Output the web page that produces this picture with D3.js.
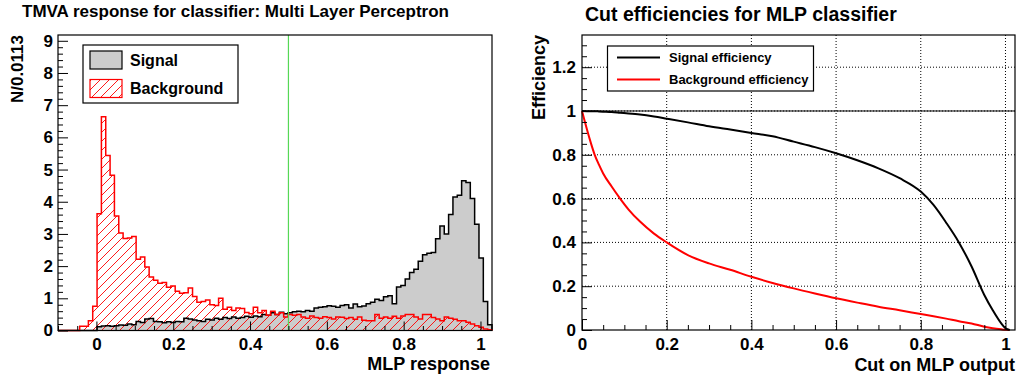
<!DOCTYPE html>
<html><head><meta charset="utf-8">
<script src="https://cdn.jsdelivr.net/npm/d3@7"></script>
<style>
body{margin:0;background:#fff}
svg{display:block}
text{font-family:"Liberation Sans",Arial,Helvetica,sans-serif;font-weight:bold;fill:#000}
</style>
</head><body>
<svg id="c" width="1018" height="377"></svg>
<script>
// ---------- data ----------
const histLow = -0.1, histBinWidth = 0.0113;
const signalCounts = [
 0,0,0,0,0,0,0,0,0,0.12,
 0.14,0.15,0.13,0.15,0.17,0.16,0.2,0.18,0.28,0.25,
 0.36,0.37,0.28,0.27,0.24,0.27,0.25,0.28,0.27,0.38,
 0.36,0.33,0.3,0.28,0.35,0.33,0.38,0.35,0.4,0.37,
 0.42,0.38,0.4,0.44,0.41,0.45,0.43,0.5,0.47,0.55,
 0.5,0.57,0.52,0.55,0.58,0.6,0.58,0.62,0.6,0.7,
 0.72,0.74,0.77,0.75,0.72,0.78,0.8,0.7,0.82,0.74,
 0.76,0.83,0.88,0.97,0.93,1.05,1.08,0.83,1.35,1.4,
 1.6,1.8,1.9,2.15,2.35,2.4,2.42,2.85,3.25,3.0,
 3.6,4.15,4.2,4.65,4.6,4.1,3.3,2.25,0.9,0.18
];
const backgroundCounts = [
 0,0,0,0,0,0.13,0.13,0.3,0.75,3.63,
 6.64,5.44,4.82,3.56,3.03,2.86,2.87,2.92,2.21,2.28,
 1.97,1.66,1.56,1.47,1.49,1.34,1.38,1.22,1.16,1.17,
 1.32,1.06,0.88,0.9,0.95,0.8,0.78,1.0,0.66,0.72,
 0.62,0.7,0.68,0.56,0.52,0.72,0.55,0.62,0.47,0.6,
 0.5,0.55,0.42,0.5,0.47,0.5,0.42,0.38,0.45,0.4,
 0.38,0.43,0.4,0.36,0.42,0.41,0.37,0.4,0.35,0.42,
 0.32,0.3,0.3,0.5,0.38,0.42,0.38,0.44,0.38,0.45,
 0.5,0.5,0.42,0.36,0.5,0.5,0.4,0.36,0.3,0.42,
 0.38,0.35,0.3,0.3,0.26,0.2,0.15,0.1,0.05,0.02
];
const histXTicks = [0, 0.2, 0.4, 0.6, 0.8, 1];
const histYTicks = [0, 1, 2, 3, 4, 5, 6, 7, 8, 9];
const cutPosition = 0.5;

const cutValues     = [0,0.02,0.03,0.04,0.05,0.07,0.09,0.11,0.137,0.17,0.2,0.25,0.3,0.35,0.4,0.45,0.5,0.55,0.6,0.65,0.7,0.75,0.8,0.83,0.86,0.89,0.92,0.95,0.97,0.99,1.0,1.01];
const signalEff     = [1.0,0.999,0.999,0.998,0.997,0.995,0.992,0.989,0.984,0.975,0.965,0.948,0.93,0.915,0.9,0.885,0.86,0.835,0.807,0.775,0.738,0.693,0.632,0.571,0.49,0.40,0.29,0.16,0.09,0.03,0.008,0];
const backgroundEff = [1.0,0.86,0.80,0.755,0.715,0.655,0.60,0.55,0.495,0.44,0.40,0.342,0.304,0.275,0.243,0.215,0.19,0.167,0.145,0.125,0.106,0.09,0.073,0.063,0.052,0.04,0.03,0.015,0.008,0.003,0.001,0];
const effXTicks = [0, 0.2, 0.4, 0.6, 0.8, 1];
const effYTicks = [0, 0.2, 0.4, 0.6, 0.8, 1, 1.2];

// ---------- drawing ----------
const svg = d3.select("#c");
const fmt = d3.format("~g");
const defs = svg.append("defs");
defs.append("pattern").attr("id","hatch").attr("patternUnits","userSpaceOnUse")
  .attr("width",9).attr("height",9)
  .append("path").attr("d","M-1,10 L10,-1 M-3,3 L3,-3 M6,12 L12,6")
  .attr("stroke","#ff0000").attr("stroke-width",0.9).attr("fill","none");

function minorValues(lo, hi, step, majorStep){
  const out = [];
  const n0 = Math.ceil(lo/step - 1e-9), n1 = Math.floor(hi/step + 1e-9);
  for (let i=n0;i<=n1;i++){
    const v = i*step;
    const r = v/majorStep;
    if (Math.abs(r - Math.round(r)) > 1e-6) out.push(v);
  }
  return out;
}

// ===== Left panel =====
const L = {x0:58, x1:492, y0:35, y1:330.5};
const nBins = signalCounts.length;
const histHigh = histLow + nBins*histBinWidth;
const xL = d3.scaleLinear().domain([histLow, histHigh]).range([L.x0, L.x1]);
const yL = d3.scaleLinear().domain([0, 9.18]).range([L.y1, L.y0]);

function stepPoints(counts){
  const pts = [[histLow, 0]];
  counts.forEach((v,i)=>{
    const a = histLow + i*histBinWidth, b = a + histBinWidth;
    pts.push([a, v]); pts.push([b, v]);
  });
  pts.push([histHigh, 0]);
  return pts;
}
const stepLine = d3.line().x(d=>xL(d[0])).y(d=>yL(d[1]));
const sigPts = stepPoints(signalCounts), bkgPts = stepPoints(backgroundCounts);

svg.append("text").attr("x",22).attr("y",17).attr("font-size",17)
  .text("TMVA response for classifier: Multi Layer Perceptron");

const gL = svg.append("g");
gL.append("path").attr("d", stepLine(sigPts)+"Z").attr("fill","#cccccc").attr("stroke","none");
gL.append("path").attr("d", stepLine(bkgPts)+"Z").attr("fill","url(#hatch)").attr("stroke","none");
gL.append("path").attr("d", stepLine(sigPts)).attr("fill","none").attr("stroke","#000").attr("stroke-width",1.5);
gL.append("path").attr("d", stepLine(bkgPts)).attr("fill","none").attr("stroke","#ff0000").attr("stroke-width",1.5);

gL.append("line").attr("x1",xL(cutPosition)).attr("x2",xL(cutPosition))
  .attr("y1",L.y0).attr("y2",L.y1).attr("stroke","#55d855").attr("stroke-width",1.2);

// axes
const axXL = d3.axisBottom(xL).tickValues(histXTicks).tickFormat(fmt).tickSizeInner(-9).tickSizeOuter(0).tickPadding(7.5);
const gxL = gL.append("g").attr("transform",`translate(0,${L.y1})`).call(axXL);
const axXLm = d3.axisBottom(xL).tickValues(minorValues(histLow, histHigh, 0.05, 0.2)).tickFormat("").tickSizeInner(-4.5).tickSizeOuter(0);
const gxLm = gL.append("g").attr("transform",`translate(0,${L.y1})`).call(axXLm);
const axYL = d3.axisLeft(yL).tickValues(histYTicks).tickFormat(fmt).tickSizeInner(-10).tickSizeOuter(0).tickPadding(5);
const gyL = gL.append("g").attr("transform",`translate(${L.x0},0)`).call(axYL);
const axYLm = d3.axisLeft(yL).tickValues(minorValues(0, 9.18, 0.2, 1)).tickFormat("").tickSizeInner(-5).tickSizeOuter(0);
const gyLm = gL.append("g").attr("transform",`translate(${L.x0},0)`).call(axYLm);
[gxL,gxLm,gyL,gyLm].forEach(g=>{
  g.select(".domain").remove();
  g.selectAll("line").attr("stroke","#000").attr("stroke-width",1);
  g.selectAll("text").attr("font-size",17).attr("font-family",null).style("fill","#000");
});

gL.append("rect").attr("x",L.x0).attr("y",L.y0).attr("width",L.x1-L.x0).attr("height",L.y1-L.y0)
  .attr("fill","none").attr("stroke","#000").attr("stroke-width",1.2);

// legend
const lg = gL.append("g");
lg.append("rect").attr("x",83).attr("y",45).attr("width",155).attr("height",58).attr("fill","#fff").attr("stroke","#000").attr("stroke-width",1.2);
lg.append("rect").attr("x",90).attr("y",51).attr("width",32).attr("height",18).attr("fill","#cccccc").attr("stroke","#000").attr("stroke-width",1.2);
lg.append("rect").attr("x",90).attr("y",79.5).attr("width",32).attr("height",18).attr("fill","url(#hatch)").attr("stroke","#ff0000").attr("stroke-width",1.2);
lg.append("text").attr("x",130).attr("y",66).attr("font-size",16).text("Signal");
lg.append("text").attr("x",130).attr("y",94).attr("font-size",16).text("Background");

svg.append("text").attr("transform","translate(23,35) rotate(-90)").attr("text-anchor","end")
  .attr("font-size",17).text("N/0.0113");
svg.append("text").attr("x",490).attr("y",369.5).attr("text-anchor","end").attr("font-size",18).text("MLP response");

// ===== Right panel =====
const R = {x0:582, x1:1015, y0:35, y1:330};
const xR = d3.scaleLinear().domain([0, 1.0225]).range([R.x0, R.x1]);
const yR = d3.scaleLinear().domain([0, 1.347]).range([R.y1, R.y0]);

svg.append("text").attr("x",585).attr("y",21).attr("font-size",19.5).text("Cut efficiencies for MLP classifier");

const gR = svg.append("g");
// grid
effXTicks.filter(v=>v>0).forEach(v=>{
  gR.append("line").attr("x1",xR(v)).attr("x2",xR(v)).attr("y1",R.y0).attr("y2",R.y1)
    .attr("stroke","#000").attr("stroke-width",1).attr("stroke-dasharray","1,2");
});
effYTicks.filter(v=>v>0).forEach(v=>{
  gR.append("line").attr("x1",R.x0).attr("x2",R.x1).attr("y1",yR(v)).attr("y2",yR(v))
    .attr("stroke","#000").attr("stroke-width",1).attr("stroke-dasharray","1,2");
});
gR.append("line").attr("x1",R.x0).attr("x2",R.x1).attr("y1",yR(1)).attr("y2",yR(1)).attr("stroke","#000").attr("stroke-width",1);

const effLine = d3.line().x((d,i)=>xR(cutValues[i])).y(d=>yR(d)).curve(d3.curveMonotoneX);
gR.append("path").attr("d",effLine(backgroundEff)).attr("fill","none").attr("stroke","#ff0000").attr("stroke-width",2);
gR.append("path").attr("d",effLine(signalEff)).attr("fill","none").attr("stroke","#000").attr("stroke-width",2);

const axXR = d3.axisBottom(xR).tickValues(effXTicks).tickFormat(fmt).tickSizeInner(-10).tickSizeOuter(0).tickPadding(7.5);
const gxR = gR.append("g").attr("transform",`translate(0,${R.y1})`).call(axXR);
const axXRm = d3.axisBottom(xR).tickValues(minorValues(0, 1.0225, 0.05, 0.2)).tickFormat("").tickSizeInner(-5).tickSizeOuter(0);
const gxRm = gR.append("g").attr("transform",`translate(0,${R.y1})`).call(axXRm);
const axYR = d3.axisLeft(yR).tickValues(effYTicks).tickFormat(fmt).tickSizeInner(-10).tickSizeOuter(0).tickPadding(6);
const gyR = gR.append("g").attr("transform",`translate(${R.x0},0)`).call(axYR);
const axYRm = d3.axisLeft(yR).tickValues(minorValues(0, 1.347, 0.05, 0.2)).tickFormat("").tickSizeInner(-5).tickSizeOuter(0);
const gyRm = gR.append("g").attr("transform",`translate(${R.x0},0)`).call(axYRm);
[gxR,gxRm,gyR,gyRm].forEach(g=>{
  g.select(".domain").remove();
  g.selectAll("line").attr("stroke","#000").attr("stroke-width",1);
  g.selectAll("text").attr("font-size",17).attr("font-family",null).style("fill","#000");
});

gR.append("rect").attr("x",R.x0).attr("y",R.y0).attr("width",R.x1-R.x0).attr("height",R.y1-R.y0)
  .attr("fill","none").attr("stroke","#000").attr("stroke-width",1.2);

const lr = gR.append("g");
lr.append("rect").attr("x",607.5).attr("y",46).attr("width",206).attr("height",45).attr("fill","#fff").attr("stroke","#000").attr("stroke-width",1.2);
lr.append("line").attr("x1",617).attr("x2",660).attr("y1",57.5).attr("y2",57.5).attr("stroke","#000").attr("stroke-width",2);
lr.append("line").attr("x1",617).attr("x2",660).attr("y1",79.5).attr("y2",79.5).attr("stroke","#ff0000").attr("stroke-width",2);
lr.append("text").attr("x",669).attr("y",62).attr("font-size",13).text("Signal efficiency");
lr.append("text").attr("x",669).attr("y",84).attr("font-size",13).text("Background efficiency");

svg.append("text").attr("transform","translate(545,35) rotate(-90)").attr("text-anchor","end")
  .attr("font-size",18).text("Efficiency");
svg.append("text").attr("x",1015).attr("y",370.5).attr("text-anchor","end").attr("font-size",18).text("Cut on MLP output");
</script>
</body></html>
